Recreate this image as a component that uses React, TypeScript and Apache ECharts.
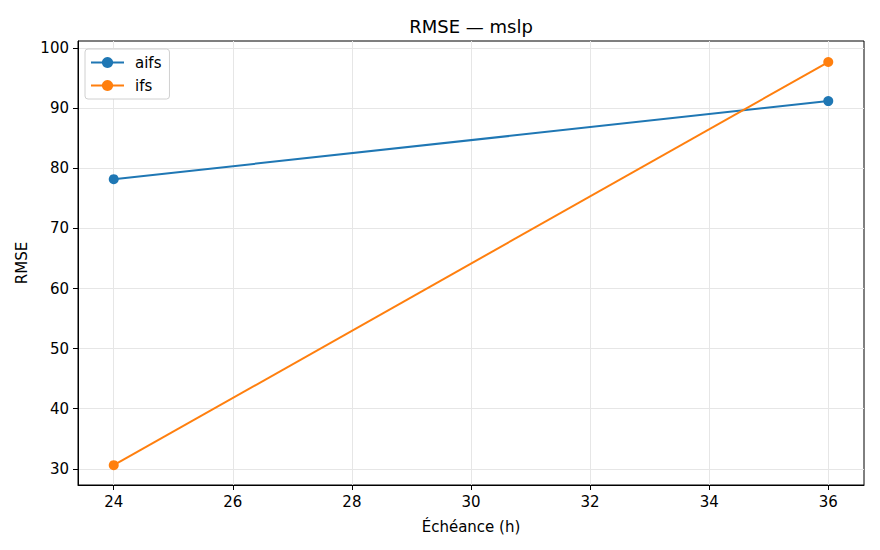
import { useEffect, useRef } from "react";
import * as echarts from "echarts";

const leadTimes = [24, 36];
const aifsRmse = [78.2, 91.2];
const ifsRmse = [30.6, 97.7];
const xTicks = [24, 26, 28, 30, 32, 34, 36];
const yTicks = [30, 40, 50, 60, 70, 80, 90, 100];

const FONT = "DejaVu Sans";

function App() {
  const chartRef = useRef<HTMLDivElement>(null);

  useEffect(() => {
    document.body.style.margin = "0";
    if (!chartRef.current) return;
    const chart = echarts.init(chartRef.current, null, { renderer: "svg" });

    const tickStyle = { show: true, length: 5, inside: false, lineStyle: { color: "#000", width: 1 } };
    const splitStyle = { show: true, lineStyle: { color: "#e6e6e6", width: 1 } };

    chart.setOption({
      animation: false,
      textStyle: { fontFamily: FONT },
      title: {
        text: "RMSE — mslp",
        left: 466,
        top: 12,
        textAlign: "center",
        textStyle: { fontFamily: FONT, fontSize: 18, fontWeight: "normal", color: "#000" },
      },
      legend: {
        orient: "vertical",
        left: 85,
        top: 49,
        padding: [6, 8, 6, 5],
        itemGap: 8,
        itemWidth: 33,
        itemHeight: 14,
        backgroundColor: "#fff",
        borderColor: "#d0d0d0",
        borderWidth: 1,
        borderRadius: 3,
        textStyle: { fontFamily: FONT, fontSize: 15, color: "#000", padding: [0, 0, 0, 6] },
        data: ["aifs", "ifs"],
      },
      grid: {
        left: 78,
        right: 16,
        top: 41,
        bottom: 65,
        show: true,
        borderColor: "#000",
        borderWidth: 1,
        backgroundColor: "transparent",
      },
      xAxis: {
        type: "value",
        min: 23.4,
        max: 36.6,
        name: "Échéance (h)",
        nameLocation: "middle",
        nameGap: 34,
        nameTextStyle: { fontFamily: FONT, fontSize: 15, color: "#000" },
        axisLine: { show: true, lineStyle: { color: "#000" } },
        axisTick: { ...tickStyle, customValues: xTicks },
        axisLabel: { customValues: xTicks, fontFamily: FONT, fontSize: 15, color: "#000", margin: 9 },
        splitLine: splitStyle,
      },
      yAxis: {
        type: "value",
        min: 27.3,
        max: 101.2,
        name: "RMSE",
        nameLocation: "middle",
        nameGap: 43,
        nameTextStyle: { fontFamily: FONT, fontSize: 15, color: "#000" },
        axisLine: { show: true, lineStyle: { color: "#000" } },
        axisTick: { ...tickStyle, customValues: yTicks },
        axisLabel: { customValues: yTicks, fontFamily: FONT, fontSize: 15, color: "#000", margin: 9 },
        splitLine: splitStyle,
      },
      series: [
        {
          name: "aifs",
          type: "line",
          data: leadTimes.map((x, i) => [x, aifsRmse[i]]),
          symbol: "circle",
          symbolSize: 10,
          color: "#1f77b4",
          lineStyle: { width: 2 },
          z: 3,
        },
        {
          name: "ifs",
          type: "line",
          data: leadTimes.map((x, i) => [x, ifsRmse[i]]),
          symbol: "circle",
          symbolSize: 10,
          color: "#ff7f0e",
          lineStyle: { width: 2 },
          z: 3,
        },
      ],
    });

    return () => {
      chart.dispose();
    };
  }, []);

  return <div ref={chartRef} style={{ width: "880px", height: "550px" }} />;
}

export default App;
